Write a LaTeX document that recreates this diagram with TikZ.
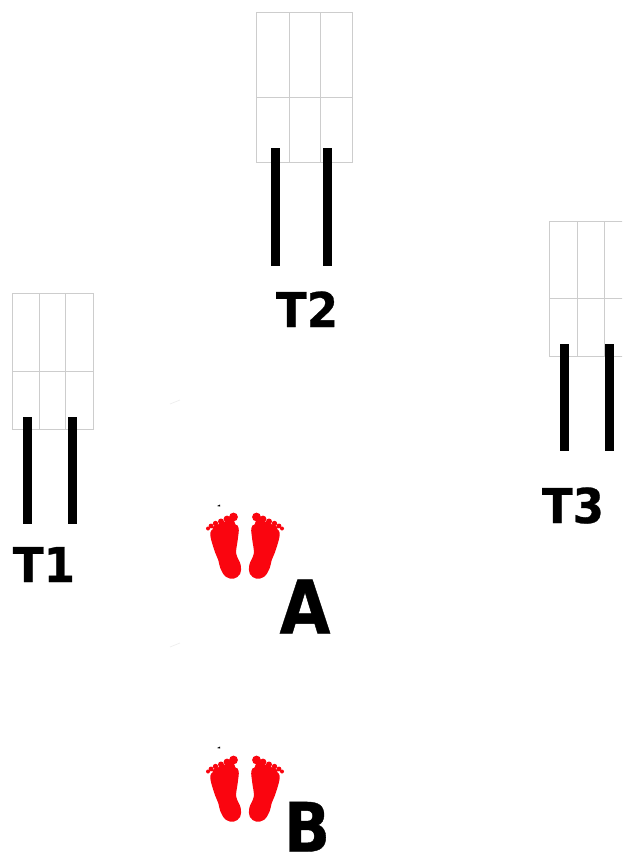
\documentclass[tikz,border=0pt]{standalone}
\usepackage{fontspec}
\setmainfont{DejaVu Sans}
\newfontface\heavy[FakeBold=0.6]{DejaVu Sans Bold}
\definecolor{footred}{RGB}{250,5,15}
\definecolor{gridgray}{RGB}{205,205,205}
\tikzset{
  gridline/.style={draw=gridgray,line width=0.9pt},
  bar/.style={fill=black,draw=none},
  lab/.style={inner sep=0pt,anchor=base},
  faint/.style={draw=black!8,line width=0.6pt},
  footpart/.style={fill=footred,draw=none},
  foot/.pic={
    \filldraw[footpart,draw=footred,line width=1.4pt,line join=round] plot[smooth cycle,tension=0.6] coordinates {(21,45) (24,39) (33,36) (44.5,35) (48,38.5) (47,50) (45.5,63.5) (50,75) (49.5,83.5) (43.5,88) (36,86) (31,78) (29,70) (25,60)};
    \foreach \x/\y/\r in {43.5/27/4.4, 37/29/3.4, 31/31.5/3, 25.5/33.5/2.7, 21/36/2.4, 18/38.5/2}
      \fill[footpart] (\x,\y) circle (\r);
    \fill[footpart] (22,37) -- (43,28) -- (46,36) -- (24,41) -- cycle;
  }
}
\newcommand{\gridbox}[7]{%
  \draw[gridline] (#1,#5) rectangle (#4,#7);
  \draw[gridline] (#2,#5) -- (#2,#7);
  \draw[gridline] (#3,#5) -- (#3,#7);
  \draw[gridline] (#1,#6) -- (#4,#6);
}
\newcommand{\smalllab}[1]{\scalebox{.94}[1]{\heavy\fontsize{48}{48}\selectfont #1}}
\newcommand{\biglab}[2]{\scalebox{.89}[1]{\heavy\fontsize{#1}{#1}\selectfont #2}}
\begin{document}
\begin{tikzpicture}[x=1pt,y=-1pt]
\useasboundingbox (0,0) rectangle (622,854);
\clip (0,0) rectangle (622,854);
% T1
\gridbox{12}{39.5}{65.5}{93}{293}{371}{429}
\fill[bar] (23,417) rectangle (31.5,524);
\fill[bar] (68,417) rectangle (76.5,524);
\node[lab] (t1) at (44,582) {\smalllab{T1}};
% T2
\gridbox{256}{289}{320}{352}{12}{97}{162}
\fill[bar] (270.5,148) rectangle (279.5,266);
\fill[bar] (322.5,148) rectangle (331.5,266);
\node[lab] (t2) at (307,327) {\smalllab{T2}};
% T3
\gridbox{549}{577}{604}{640}{221}{298}{356}
\fill[bar] (560,344) rectangle (568.5,451);
\fill[bar] (605,344) rectangle (613.5,451);
\node[lab] (t3) at (573,523) {\smalllab{T3}};
% faint specks
\draw[faint] (170,404) -- (180,400);
\draw[faint] (170,647) -- (180,643);
\fill[black] (217,506) -- (220,504.5) -- (220,506.5) -- cycle;
\fill[black] (217,748) -- (220,746.5) -- (220,748.5) -- cycle;
% feet A
\pic at (190,490) {foot};
\pic[xscale=-1] at (300,490) {foot};
\node[lab] (a) at (305,633.5) {\biglab{74}{A}};
% feet B
\pic at (190,733) {foot};
\pic[xscale=-1] at (300,733) {foot};
\node[lab] (b) at (307,851.5) {\biglab{68}{B}};
\end{tikzpicture}
\end{document}
